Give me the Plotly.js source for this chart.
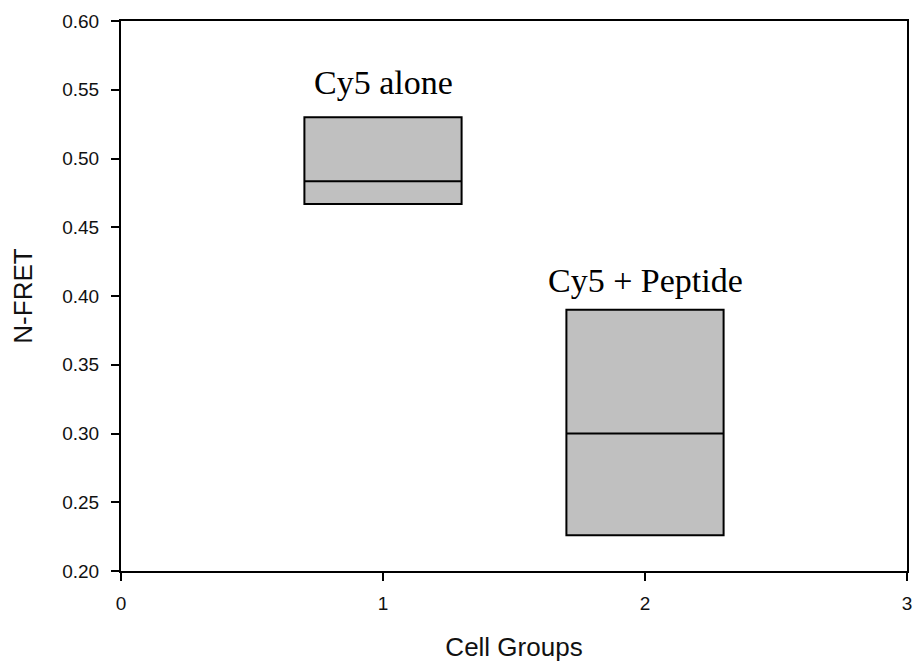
<!DOCTYPE html>
<html>
<head>
<meta charset="utf-8">
<script src="https://cdn.plot.ly/plotly-3.0.1.min.js"></script>
<style>html,body{margin:0;padding:0;background:#fff;}#chart{width:914px;height:663px;}</style>
</head>
<body>
<div id="chart"></div>
<script>
var groupNames = ["Cy5 alone", "Cy5 + Peptide"];
var groupX = [1, 2];
var q1Values = [0.467, 0.226];
var medianValues = [0.4835, 0.300];
var q3Values = [0.530, 0.390];
var yTickVals = [0.20, 0.25, 0.30, 0.35, 0.40, 0.45, 0.50, 0.55, 0.60];
var xTickVals = [0, 1, 2, 3];

var trace = {
  type: 'box',
  x: groupX,
  q1: q1Values,
  median: medianValues,
  q3: q3Values,
  lowerfence: q1Values,
  upperfence: q3Values,
  width: 0.6,
  whiskerwidth: 0,
  boxpoints: false,
  fillcolor: '#c0c0c0',
  line: {color: '#000', width: 2},
  hoverinfo: 'skip',
  showlegend: false
};

var tickFont = {family: 'Liberation Sans, Arial, sans-serif', size: 19, color: '#111'};
var titleFont = {family: 'Liberation Sans, Arial, sans-serif', size: 26, color: '#111'};

var layout = {
  width: 914, height: 663,
  margin: {l: 121, r: 7, t: 21, b: 92},
  paper_bgcolor: '#fff', plot_bgcolor: '#fff',
  xaxis: {
    range: [0, 3], tickvals: xTickVals, ticktext: xTickVals.map(String),
    ticks: 'outside', ticklen: 8, tickwidth: 2, tickcolor: '#000',
    showline: true, linecolor: '#000', linewidth: 2, mirror: true,
    showgrid: false, zeroline: false, tickfont: tickFont,
    ticklabelstandoff: 6,
    title: {text: 'Cell Groups', font: titleFont, standoff: 25}
  },
  yaxis: {
    range: [0.20, 0.60], tickvals: yTickVals, ticktext: yTickVals.map(function(v){return v.toFixed(2);}),
    ticks: 'outside', ticklen: 8, tickwidth: 2, tickcolor: '#000',
    showline: true, linecolor: '#000', linewidth: 2, mirror: true,
    showgrid: false, zeroline: false, tickfont: tickFont,
    ticklabelstandoff: 8,
    title: {text: 'N-FRET', font: titleFont, standoff: 22}
  },
  annotations: groupNames.map(function(name, i){
    return {
      x: groupX[i], y: [0.555, 0.4116][i], xref: 'x', yref: 'y',
      text: name, showarrow: false,
      font: {family: 'Liberation Serif, Times New Roman, serif', size: 34, color: '#000'},
      xanchor: 'center', yanchor: 'middle'
    };
  })
};

Plotly.newPlot('chart', [trace], layout, {displayModeBar: false, staticPlot: true});
</script>
</body>
</html>
